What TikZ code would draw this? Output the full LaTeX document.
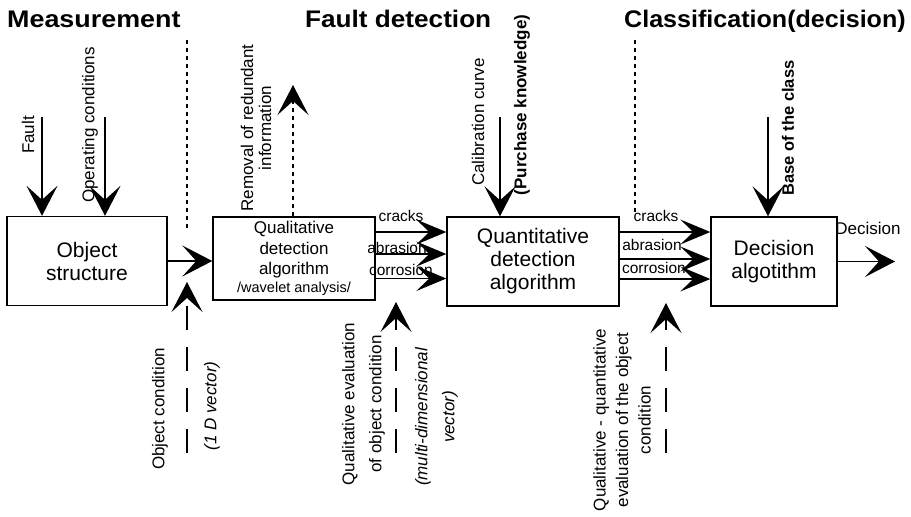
\documentclass[tikz,border=0pt]{standalone}
\usepackage{fontspec}
\setmainfont{Liberation Sans}
\usetikzlibrary{arrows.meta}

\newcommand{\fs}[2]{\fontsize{#1}{#2}\selectfont}

\begin{document}
\begin{tikzpicture}[x=1pt,y=-1pt,
  block/.style={draw,line width=1.4pt,inner sep=0pt,align=center,
                font=\fs{21}{23}},
  flow/.style={line width=1.2pt,-{Stealth[length=30pt,width=31pt,inset=14pt]}},
  sig/.style={line width=1.2pt,-{Stealth[length=30pt,width=25pt,inset=13pt]}},
  sep/.style={line width=1.1pt,dash pattern=on 4pt off 4pt},
  feedback/.style={flow,dash pattern=on 24pt off 17pt},
  header/.style={anchor=base west,inner sep=0pt,font=\fs{24}{28}\bfseries},
  side/.style={rotate=90,inner sep=0pt,align=center,font=\fs{17}{20}},
  chan/.style={inner sep=0pt,font=\fs{15.5}{17}},
]
\useasboundingbox (0,0) rectangle (911,517);

% stage headers
\node[header] (hMeas) at (7,27) {\scalebox{1.12}[1]{Measurement}};
\node[header] (hFault) at (305,27) {\scalebox{1.09}[1]{Fault detection}};
\node[header] (hClass) at (624,27) {\scalebox{1.045}[1]{Classification(decision)}};

% stage separators
\draw[sep] (187,40) -- (187,228);
\draw[sep] (635,40) -- (635,213);

% processing blocks
\node[block,minimum width=160pt,minimum height=89pt] (obj) at (87,261) {Object\\structure};
\node[block,minimum width=162pt,minimum height=83pt,font=\fs{17}{20.5}] (qual) at (294,258.5)
  {Qualitative\\detection\\algorithm\\[-3pt]{\fs{14.5}{15}/wavelet analysis/}};
\node[block,minimum width=172pt,minimum height=89pt] (quant) at (533,261.5)
  {Quantitative\\detection\\algorithm};
\node[block,minimum width=126pt,minimum height=89pt] (dec) at (774,261.5) {Decision\\algotithm};

% external inputs
\coordinate (fault) at (42,117);
\coordinate (oper) at (105,117);
\coordinate (calib) at (500,117);
\coordinate (base) at (768,117);
\draw[flow] (fault) -- (fault |- obj.north);
\draw[flow] (oper) -- (oper |- obj.north);
\draw[flow] (calib) -- (calib |- quant.north);
\draw[flow] (base) -- (base |- dec.north);

\node[side] (lFault) at (28,135) {Fault};
\node[side] (lOper) at (90,125) {Operating conditions};
\node[side] (lCalib) at (478,122) {Calibration curve};
\node[side,font=\fs{17}{20}\bfseries] (lPurch) at (522,105) {(Purchase knowledge)};
\node[side,font=\fs{16.5}{20}\bfseries] (lBase) at (788,128) {Base of the class};

% redundant information removed
\coordinate (removed) at (293,85);
\draw[flow,sep] (removed |- qual.north) -- (removed);
\node[side,font=\fs{17}{18}] (lRem) at (256,128) {Removal of redundant\\information};

% main signal path
\draw[flow] (obj.east) -- (obj.east -| qual.west);
\draw[sig] ([yshift=26.5pt]qual.east) -- ([yshift=26.5pt]qual.east -| quant.west);
\draw[sig] ([yshift=4.5pt]qual.east) -- ([yshift=4.5pt]qual.east -| quant.west);
\draw[sig] ([yshift=-20pt]qual.east) -- ([yshift=-20pt]qual.east -| quant.west);
\draw[sig] ([yshift=29.5pt]quant.east) -- ([yshift=29.5pt]quant.east -| dec.west);
\draw[sig] ([yshift=2.5pt]quant.east) -- ([yshift=2.5pt]quant.east -| dec.west);
\draw[sig] ([yshift=-17.5pt]quant.east) -- ([yshift=-17.5pt]quant.east -| dec.west);
\coordinate (out) at (895,261.5);
\draw[flow] (dec.east) -- (out);

\node[chan] (c1) at (401,216) {cracks};
\node[chan] (a1) at (397,248) {abrasion};
\node[chan] (r1) at (401,270) {corrosion};
\node[chan] (c2) at (656,216) {cracks};
\node[chan] (a2) at (652,245) {abrasion};
\node[chan] (r2) at (654,268) {corrosion};
\node[inner sep=0pt,font=\fs{17}{20}] (lDec) at (868,228) {Decision};

% evaluated conditions
\coordinate (oc0) at (187,453);
\coordinate (oc1) at (187,282);
\coordinate (qe0) at (396,453);
\coordinate (qe1) at (396,302);
\coordinate (qq0) at (666,453);
\coordinate (qq1) at (666,303);
\draw[feedback] (oc0) -- (oc1);
\draw[feedback] (qe0) -- (qe1);
\draw[feedback] (qq0) -- (qq1);

\node[side] (lObj) at (160,409) {Object condition};
\node[side,font=\fs{17}{20}\itshape] (lVec) at (212,406) {(1 D vector)};
\node[side,font=\fs{17}{27}] (lQE) at (363.5,404) {Qualitative evaluation\\of object condition};
\node[side,font=\fs{17}{27}\itshape] (lMulti) at (436.5,417) {(multi-dimensional\\vector)};
\node[side,font=\fs{17}{22.5}] (lQQ) at (622,420) {Qualitative - quantitative\\evaluation of the object\\condition};
\end{tikzpicture}
\end{document}
